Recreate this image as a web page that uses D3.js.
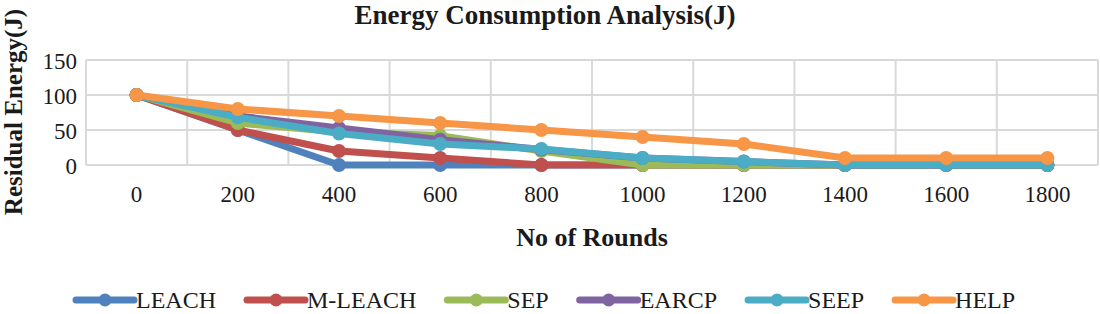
<!DOCTYPE html>
<html>
<head>
<meta charset="utf-8">
<script src="https://cdn.jsdelivr.net/npm/d3@7"></script>
<style>
  body { margin: 0; background: #fff; }
  svg text { font-family: "Liberation Serif", "DejaVu Serif", serif; fill: #1a1a1a; }
</style>
</head>
<body>
<div id="chart"></div>
<script>
// data
var rounds = ["0", "200", "400", "600", "800", "1000", "1200", "1400", "1600", "1800"];
var seriesNames = ["LEACH", "M-LEACH", "SEP", "EARCP", "SEEP", "HELP"];
var leach  = [100, 50, 0, 0, 0, 0, 0, 0, 0, 0];
var mleach = [100, 50, 20, 10, 0, 0, 0, 0, 0, 0];
var sep    = [100, 60, 47, 42, 20, 0, 0, 0, 0, 0];
var earcp  = [100, 70, 53, 36, 22, 10, 5, 0, 0, 0];
var seep   = [100, 68, 45, 30, 23, 10, 5, 0, 0, 0];
var help   = [100, 80, 70, 60, 50, 40, 30, 10, 10, 10];
var yTicks = [0, 50, 100, 150];
var colors = ["#4F81BD", "#C0504D", "#9BBB59", "#8064A2", "#4BACC6", "#F79646"];

var allSeries = [leach, mleach, sep, earcp, seep, help];

var w = 1100, h = 314;
var plotLeft = 86, plotRight = 1098, plotTop = 60, plotBottom = 165;

var svg = d3.select("#chart").append("svg")
    .attr("width", w)
    .attr("height", h);

// scales
var x = d3.scaleBand().domain(rounds).range([plotLeft, plotRight]);
var y = d3.scaleLinear().domain([0, 150]).range([plotBottom, plotTop]);

// grid
var grid = svg.append("g").attr("stroke", "#d9d9d9").attr("stroke-width", 2);
grid.selectAll("line.h")
    .data(yTicks)
    .enter().append("line")
    .attr("x1", plotLeft).attr("x2", plotRight)
    .attr("y1", function (d) { return y(d); })
    .attr("y2", function (d) { return y(d); });
grid.selectAll("line.v")
    .data(rounds.concat(["end"]))
    .enter().append("line")
    .attr("x1", function (d, i) { return plotLeft + i * x.step(); })
    .attr("x2", function (d, i) { return plotLeft + i * x.step(); })
    .attr("y1", plotTop).attr("y2", plotBottom);

// axes (labels only)
var yAxis = svg.append("g")
    .attr("transform", "translate(" + (plotLeft - 9) + ",0)")
    .call(d3.axisLeft(y).tickValues(yTicks).tickSize(0).tickPadding(0));
yAxis.select(".domain").remove();
yAxis.selectAll("text").style("font-size", "23px").attr("dy", "0.35em");

var xAxis = svg.append("g")
    .attr("transform", "translate(0," + (plotBottom + 29) + ")")
    .call(d3.axisBottom(x).tickSize(0).tickPadding(0));
xAxis.select(".domain").remove();
xAxis.selectAll("text").style("font-size", "23px").attr("dy", "0.35em");
svg.selectAll(".tick text").attr("fill", "#1a1a1a");

// lines
var line = d3.line()
    .x(function (d, i) { return x(rounds[i]) + x.bandwidth() / 2; })
    .y(function (d) { return y(d); });

var groups = svg.selectAll("g.series")
    .data(allSeries)
    .enter().append("g")
    .attr("class", "series");

groups.append("path")
    .attr("d", line)
    .attr("fill", "none")
    .attr("stroke", function (d, i) { return colors[i]; })
    .attr("stroke-width", 7)
    .attr("stroke-linejoin", "round");

groups.each(function (s, i) {
    d3.select(this).selectAll("circle")
        .data(s)
        .enter().append("circle")
        .attr("cx", function (d, j) { return x(rounds[j]) + x.bandwidth() / 2; })
        .attr("cy", function (d) { return y(d); })
        .attr("r", 7)
        .attr("fill", colors[i]);
});

// titles
svg.append("text")
    .attr("x", 545).attr("y", 24)
    .attr("text-anchor", "middle")
    .style("font-size", "27px").style("font-weight", "bold")
    .text("Energy Consumption Analysis(J)");

svg.append("text")
    .attr("x", (plotLeft + plotRight) / 2).attr("y", 246)
    .attr("text-anchor", "middle")
    .style("font-size", "26px").style("font-weight", "bold")
    .text("No of Rounds");

svg.append("text")
    .attr("transform", "translate(22,112) rotate(-90)")
    .attr("text-anchor", "middle")
    .style("font-size", "25px").style("font-weight", "bold")
    .text("Residual Energy(J)");

// legend
var lx = 76, ly = 300;
seriesNames.forEach(function (name, i) {
    var g = svg.append("g").attr("transform", "translate(" + lx + "," + ly + ")");
    g.append("line")
        .attr("x1", 0).attr("x2", 58)
        .attr("stroke", colors[i]).attr("stroke-width", 7)
        .attr("stroke-linecap", "round");
    g.append("circle").attr("cx", 29).attr("r", 6.5).attr("fill", colors[i]);
    var t = g.append("text")
        .attr("x", 60).attr("dy", "0.35em")
        .style("font-size", "24px")
        .text(name);
    lx += 60 + t.node().getComputedTextLength() + 31;
});
</script>
</body>
</html>
